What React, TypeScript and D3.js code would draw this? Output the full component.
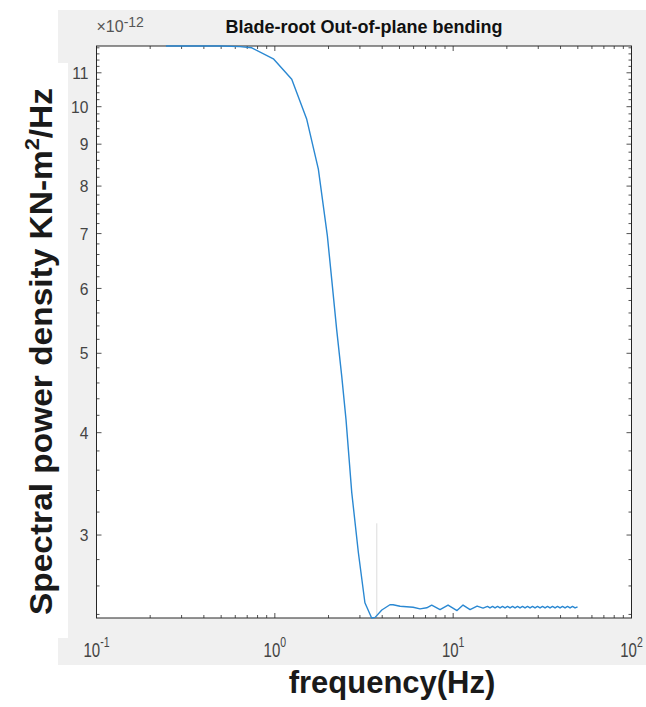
import React from "react";
import * as d3 from "d3";

// Spectral power density of blade-root out-of-plane bending moment (values ×1e-12)
const freqHz = [
  0.245, 0.3, 0.4, 0.5, 0.638, 0.742, 0.981, 1.244, 1.51, 1.754, 1.97, 2.085,
  2.223, 2.372, 2.507, 2.7, 2.94, 3.2, 3.49, 3.65, 3.98, 4.42, 4.6, 5.04, 5.96,
  6.52, 7.11, 7.58, 8.44, 9.36, 10.51, 11.36, 12.44, 13.62, 14.71, 15.58, 16.09,
  16.63, 17.17, 17.74, 18.32, 18.92, 19.54, 20.18, 20.84, 21.53, 22.23, 22.96,
  23.71, 24.49, 25.29, 26.12, 26.98, 27.87, 28.78, 29.72, 30.7, 31.71, 32.75,
  33.82, 34.93, 36.08, 37.27, 38.48, 39.75, 41.05, 42.4, 43.79, 45.23, 46.71,
  48.24, 49.83,
];
const psd = [
  11.86, 11.86, 11.86, 11.86, 11.84, 11.8, 11.44, 10.8, 9.65, 8.39, 6.96, 6.15,
  5.34, 4.69, 4.15, 3.38, 2.856, 2.48, 2.376, 2.38, 2.43, 2.466, 2.466, 2.456,
  2.449, 2.438, 2.445, 2.463, 2.433, 2.464, 2.426, 2.464, 2.433, 2.457, 2.443,
  2.455, 2.444, 2.455, 2.444, 2.455, 2.444, 2.455, 2.444, 2.455, 2.444, 2.455,
  2.444, 2.455, 2.444, 2.455, 2.444, 2.455, 2.444, 2.455, 2.444, 2.455, 2.444,
  2.455, 2.444, 2.455, 2.444, 2.455, 2.444, 2.455, 2.444, 2.455, 2.444, 2.455,
  2.444, 2.455, 2.444, 2.452,
];
const yTickValues = [3, 4, 5, 6, 7, 8, 9, 10, 11];
const xDecades = [-1, 0, 1, 2];
const yDomain = [2.376, 11.86];
const xDomain = [0.1, 100];
// thin cursor line near the spectral minimum
const cursorFreq = [3.73];
const cursorTop = [3.1];

const W = 646;
const H = 707;
const L = 96.5;
const R = 631.5;
const T = 46;
const B = 618;
const FONT = "'Liberation Sans', Arial, Helvetica, sans-serif";
const AX = "#262626";

export default function App() {
  const x = d3.scaleLog().domain(xDomain).range([L, R]);
  const y = d3.scaleLog().domain(yDomain).range([B, T]);

  const line = d3
    .line<number>()
    .x((_, i) => x(freqHz[i]))
    .y((d) => y(d));
  const path = line(psd) || "";

  const xMajor = xDecades.map((k) => Math.pow(10, k));
  const xMinor: number[] = [];
  for (let k = -1; k <= 1; k++) {
    for (let m = 2; m <= 9; m++) xMinor.push(m * Math.pow(10, k));
  }
  const yMinor = d3
    .range(24, 119, 2)
    .map((v) => v / 10)
    .filter((v) => Math.abs(v - Math.round(v)) > 1e-6 && v >= yDomain[0] && v <= yDomain[1]);

  const maj = 5;
  const min = 3;

  return (
    <svg
      width={W}
      height={H}
      style={{ position: "absolute", left: 0, top: 0, background: "#fff" }}
    >
      <rect x={0} y={0} width={W} height={H} fill="#ffffff" />
      <rect x={58} y={10} width={W - 58} height={655} fill="#f0f0f0" />
      <rect x={0} y={63} width={68} height={575} fill="#ffffff" />

      {/* plot area */}
      <rect x={L} y={T} width={R - L} height={B - T} fill="#ffffff" />

      {/* cursor line */}
      {cursorFreq.map((f, i) => (
        <line
          key={"c" + i}
          x1={x(f)}
          x2={x(f)}
          y1={y(cursorTop[i])}
          y2={B}
          stroke="#d2d2d2"
          strokeWidth={0.8}
        />
      ))}

      {/* ticks */}
      <g stroke={AX} strokeWidth={0.8}>
        {xMajor.map((v) => (
          <g key={"xm" + v}>
            <line x1={x(v)} x2={x(v)} y1={B} y2={B - maj} />
            <line x1={x(v)} x2={x(v)} y1={T} y2={T + maj} />
          </g>
        ))}
        {xMinor.map((v) => (
          <g key={"xn" + v}>
            <line x1={x(v)} x2={x(v)} y1={B} y2={B - min} />
            <line x1={x(v)} x2={x(v)} y1={T} y2={T + min} />
          </g>
        ))}
        {yTickValues.map((v) => (
          <g key={"ym" + v}>
            <line x1={L} x2={L + maj} y1={y(v)} y2={y(v)} />
            <line x1={R} x2={R - maj} y1={y(v)} y2={y(v)} />
          </g>
        ))}
        {yMinor.map((v) => (
          <g key={"yn" + v}>
            <line x1={L} x2={L + min} y1={y(v)} y2={y(v)} />
            <line x1={R} x2={R - min} y1={y(v)} y2={y(v)} />
          </g>
        ))}
      </g>

      {/* axes box */}
      <rect x={L} y={T} width={R - L} height={B - T} fill="none" stroke={AX} strokeWidth={1} />

      {/* y tick labels */}
      {yTickValues.map((v) => (
        <text
          key={"yl" + v}
          transform={`translate(88.5,${y(v)}) scale(0.92,1)`}
          dy="0.36em"
          textAnchor="end"
          fontFamily={FONT}
          fontSize={17}
          fill="#444"
        >
          {v}
        </text>
      ))}

      {/* x tick labels */}
      {xDecades.map((k) => (
        <text
          key={"xl" + k}
          transform={`translate(${x(Math.pow(10, k))},656.7) scale(0.75,1)`}
          textAnchor="middle"
          fontFamily={FONT}
          fontSize={20}
          fill="#444"
        >
          10
          <tspan fontSize={14} dy={-10}>
            {k}
          </tspan>
        </text>
      ))}

      {/* exponent multiplier */}
      <text x={96.5} y={32} fontFamily={FONT} fontSize={16} fill="#555">
        ×10
        <tspan fontSize={14} dy={-5}>
          -12
        </tspan>
      </text>

      {/* title */}
      <text
        x={364}
        y={33}
        textAnchor="middle"
        fontFamily={FONT}
        fontSize={18}
        fontWeight="bold"
        fill="#111"
      >
        Blade-root Out-of-plane bending
      </text>

      {/* axis labels */}
      <text
        transform="translate(52,351.5) rotate(-90)"
        textAnchor="middle"
        fontFamily={FONT}
        fontSize={31}
        fontWeight="bold"
        fill="#1a1a1a"
        textLength={527}
        lengthAdjust="spacingAndGlyphs"
      >
        Spectral power density KN-m
        <tspan fontSize={20} dy={-13}>
          2
        </tspan>
        <tspan dy={13}>/Hz</tspan>
      </text>
      <text
        x={392}
        y={693}
        textAnchor="middle"
        fontFamily={FONT}
        fontSize={31}
        fontWeight="bold"
        fill="#1a1a1a"
      >
        frequency(Hz)
      </text>

      {/* spectrum */}
      <path d={path} fill="none" stroke="#2a88d2" strokeWidth={1.4} strokeLinejoin="round" />
    </svg>
  );
}
